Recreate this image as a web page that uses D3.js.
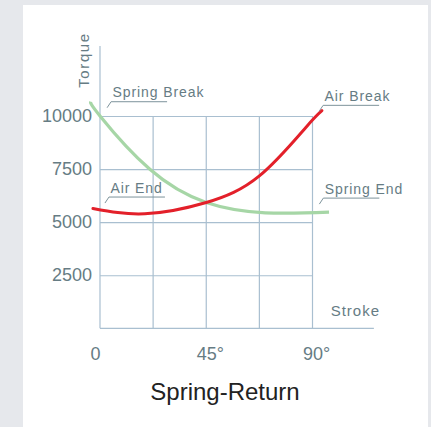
<!DOCTYPE html>
<html>
<head>
<meta charset="utf-8">
<script src="https://cdn.jsdelivr.net/npm/d3@7"></script>
<style>
  html, body { margin: 0; padding: 0; background: #e6e8ec; }
  svg { display: block; }
</style>
</head>
<body>
<div class="chart"></div>
<script>
// data
const strokeTicks = [0, 45, 90];
const strokeTickLabels = ["0", "45°", "90°"];
const strokeGrid = [22.5, 45, 67.5, 90];
const torqueTicks = [2500, 5000, 7500, 10000];

const springStroke = [-4, 0, 21, 45, 70, 97];
const springTorque = [10680, 10000, 7500, 5925, 5440, 5470];

const airStroke = [-3, 19, 45, 67.5, 87, 94];
const airTorque = [5640, 5395, 5925, 7180, 9440, 10250];

const noteTexts = ["Spring Break", "Air Break", "Air End", "Spring End"];
const noteStroke = [3, 92.8, 2.1, 92.9];
const noteTorque = [10390, 10220, 5900, 5850];

const title = "Spring-Return";

const width = 431;
const height = 427;
const gridColor = "#a9bfd0";
const textColor = "#667c84";
const font = "Liberation Sans, Arial, sans-serif";

const svg = d3.select(".chart").append("svg")
  .attr("width", width)
  .attr("height", height);

// white card
svg.append("rect")
  .attr("x", 23).attr("y", 5)
  .attr("width", 405).attr("height", height)
  .attr("fill", "#fff");

const x = d3.scaleLinear().domain([0, 90]).range([100, 312.5]);
const y = d3.scaleLinear().domain([0, 10000]).range([328.3, 116]);

// horizontal grid + y labels
const yAxis = svg.append("g")
  .attr("transform", "translate(" + x(0) + ",0)")
  .call(d3.axisLeft(y).tickValues(torqueTicks).tickFormat(d3.format("d"))
    .tickSize(-(x(90) - x(0))).tickPadding(8));
yAxis.select(".domain").remove();
yAxis.selectAll("line").attr("stroke", gridColor).attr("stroke-width", 1.2);
yAxis.selectAll("text")
  .attr("fill", textColor)
  .style("font-family", font)
  .style("font-size", "18px");

// vertical grid
svg.append("g").selectAll("line")
  .data(strokeGrid)
  .enter().append("line")
  .attr("x1", d => x(d)).attr("x2", d => x(d))
  .attr("y1", y(0)).attr("y2", y(10000))
  .attr("stroke", gridColor).attr("stroke-width", 1.2);

// axis lines
svg.append("line")
  .attr("x1", x(0)).attr("x2", x(0))
  .attr("y1", y(0)).attr("y2", y(13300))
  .attr("stroke", gridColor).attr("stroke-width", 1.2);
svg.append("line")
  .attr("x1", x(0)).attr("x2", x(116))
  .attr("y1", y(0)).attr("y2", y(0))
  .attr("stroke", gridColor).attr("stroke-width", 1.2);

// x labels
const xAxis = svg.append("g")
  .attr("transform", "translate(0," + y(0) + ")")
  .call(d3.axisBottom(x).tickValues(strokeTicks).tickSize(0).tickPadding(10)
    .tickFormat((d, i) => strokeTickLabels[i]));
xAxis.select(".domain").remove();
xAxis.selectAll("text")
  .attr("fill", textColor)
  .attr("text-anchor", "start")
  .attr("dx", -10)
  .attr("dy", "1.2em")
  .style("font-family", font)
  .style("font-size", "18px");

// axis titles
svg.append("text")
  .attr("x", x(97.7)).attr("y", 316)
  .attr("fill", textColor)
  .style("font-family", font)
  .style("font-size", "15px")
  .style("letter-spacing", "1px")
  .text("Stroke");

svg.append("text")
  .attr("transform", "translate(89,60) rotate(-90)")
  .attr("text-anchor", "middle")
  .attr("fill", textColor)
  .style("font-family", font)
  .style("font-size", "15px")
  .style("letter-spacing", "1.6px")
  .text("Torque");

// curves
const line = d3.line()
  .x(d => x(d[0]))
  .y(d => y(d[1]))
  .curve(d3.curveNatural);

svg.append("path")
  .attr("d", line(d3.zip(springStroke, springTorque)))
  .attr("fill", "none")
  .attr("stroke", "#a6d6a6")
  .attr("stroke-width", 3.2);

svg.append("path")
  .attr("d", line(d3.zip(airStroke, airTorque)))
  .attr("fill", "none")
  .attr("stroke", "#e3202a")
  .attr("stroke-width", 3)
  .attr("stroke-linecap", "round");

// callouts
noteTexts.forEach(function(t, i) {
  const px = x(noteStroke[i]);
  const py = y(noteTorque[i]);
  svg.append("path")
    .attr("d", "M" + px + "," + py + "L" + (px + 4) + "," + (py - 6) + "H" + (px + 60))
    .attr("fill", "none")
    .attr("stroke", "#7d939b")
    .attr("stroke-width", 1);
  svg.append("text")
    .attr("x", px + 5.5)
    .attr("y", py - 10.5)
    .attr("fill", textColor)
    .style("font-family", font)
    .style("font-size", "14px")
    .style("letter-spacing", "0.9px")
    .text(t);
});

svg.append("text")
  .attr("x", 225).attr("y", 400)
  .attr("text-anchor", "middle")
  .attr("fill", "#222")
  .style("font-family", font)
  .style("font-size", "24px")
  .text(title);
</script>
</body>
</html>
